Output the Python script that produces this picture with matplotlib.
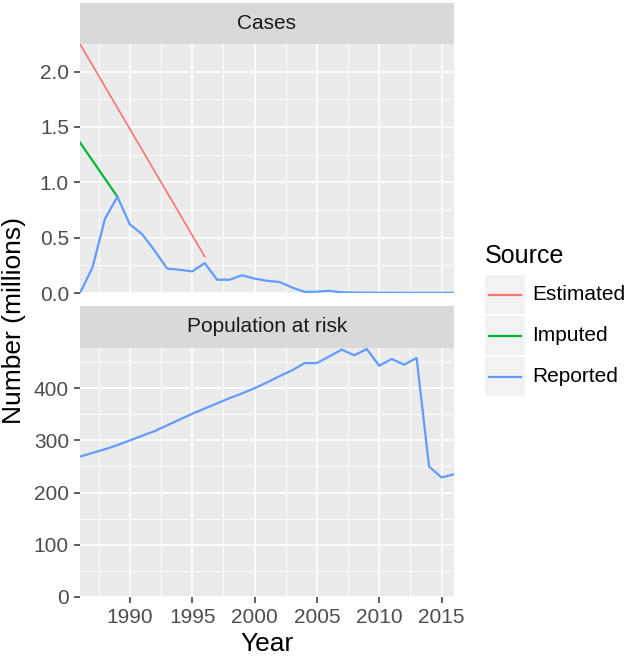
import numpy as np
import matplotlib.pyplot as plt
from matplotlib.patches import Rectangle
from matplotlib.lines import Line2D

plt.rcParams['font.family'] = ['Liberation Sans', 'DejaVu Sans']

# cases (millions)
rep_years = list(range(1986, 2017))
rep_cases = [0.0, 0.23, 0.67, 0.87, 0.62, 0.53, 0.38, 0.22, 0.21, 0.195,
             0.27, 0.12, 0.12, 0.16, 0.13, 0.11, 0.10, 0.05, 0.01, 0.012,
             0.02, 0.006, 0.004, 0.003, 0.002, 0.002, 0.001, 0.001, 0.001,
             0.001, 0.001]
est_years = [1986, 1996]
est_cases = [2.25, 0.33]
imp_years = [1986, 1989]
imp_cases = [1.36, 0.87]

# population at risk (millions)
pop = [269, 276, 283, 291, 300, 309, 318, 329, 340, 351, 361, 371, 381,
       390, 400, 411, 423, 434, 448, 448, 461, 474, 463, 475, 443, 456,
       445, 458, 250, 229, 235]

colors = {'Estimated': '#F8766D', 'Imputed': '#00BA38', 'Reported': '#619CFF'}

W, H = 625, 658
fig = plt.figure(figsize=(W / 100, H / 100), dpi=100)

def fx(px):
    return px / W

def fy(py):
    return 1 - py / H

def panel(top, bottom, strip_top, title):
    ax = fig.add_axes([fx(80), fy(bottom), fx(454 - 80), (bottom - top) / H])
    st = fig.add_axes([fx(80), fy(top), fx(454 - 80), (top - strip_top) / H])
    st.set_facecolor('#D9D9D9')
    st.set_xticks([])
    st.set_yticks([])
    for s in st.spines.values():
        s.set_visible(False)
    st.text(0.5, 0.5, title, ha='center', va='center', fontsize=15, color='#1A1A1A')
    ax.set_facecolor('#EBEBEB')
    for s in ax.spines.values():
        s.set_visible(False)
    ax.set_axisbelow(True)
    ax.grid(which='major', color='white', lw=1.2)
    ax.grid(which='minor', color='white', lw=0.6)
    ax.set_xlim(1986, 2016)
    ax.set_xticks([1990, 1995, 2000, 2005, 2010, 2015])
    ax.set_xticks([1987.5, 1992.5, 1997.5, 2002.5, 2007.5, 2012.5], minor=True)
    ax.tick_params(which='major', length=4, width=1.1, color='#333333',
                   labelsize=15, labelcolor='#4D4D4D', pad=4)
    ax.tick_params(which='minor', length=0)
    return ax

ax1 = panel(44, 293, 3, 'Cases')
ax1.plot(est_years, est_cases, color=colors['Estimated'], lw=1.2)
ax1.plot(imp_years, imp_cases, color=colors['Imputed'], lw=1.6)
ax1.plot(rep_years, rep_cases, color=colors['Reported'], lw=1.6)
ax1.set_ylim(0, 2.25)
ax1.set_yticks([0, 0.5, 1.0, 1.5, 2.0])
ax1.set_yticklabels(['0.0', '0.5', '1.0', '1.5', '2.0'])
ax1.set_yticks([0.25, 0.75, 1.25, 1.75], minor=True)
ax1.tick_params(axis='x', which='both', length=0, labelbottom=False)

ax2 = panel(348, 597, 306, 'Population at risk')
ax2.plot(rep_years, pop, color=colors['Reported'], lw=1.6)
ax2.set_ylim(0, 477)
ax2.set_yticks([0, 100, 200, 300, 400])
ax2.set_yticks([50, 150, 250, 350, 450], minor=True)

fig.text(fx(267), fy(644), 'Year', ha='center', va='center', fontsize=19)
fig.text(fx(14), fy(320), 'Number (millions)', ha='center', va='center',
         rotation=90, fontsize=19)

# legend
fig.text(fx(485), fy(256), 'Source', ha='left', va='center', fontsize=18)
keys = [('Estimated', 275), ('Imputed', 316), ('Reported', 357)]
for name, ky in keys:
    fig.add_artist(Rectangle((fx(485), fy(ky + 39)), fx(40), 39 / H,
                             transform=fig.transFigure, facecolor='#F2F2F2',
                             edgecolor='none'))
    fig.add_artist(Line2D([fx(489), fx(521)], [fy(ky + 19.5)] * 2,
                          transform=fig.transFigure, color=colors[name], lw=1.6))
    fig.text(fx(532), fy(ky + 19.5), name, ha='left', va='center', fontsize=15)

fig.savefig('out.png', dpi=100)
